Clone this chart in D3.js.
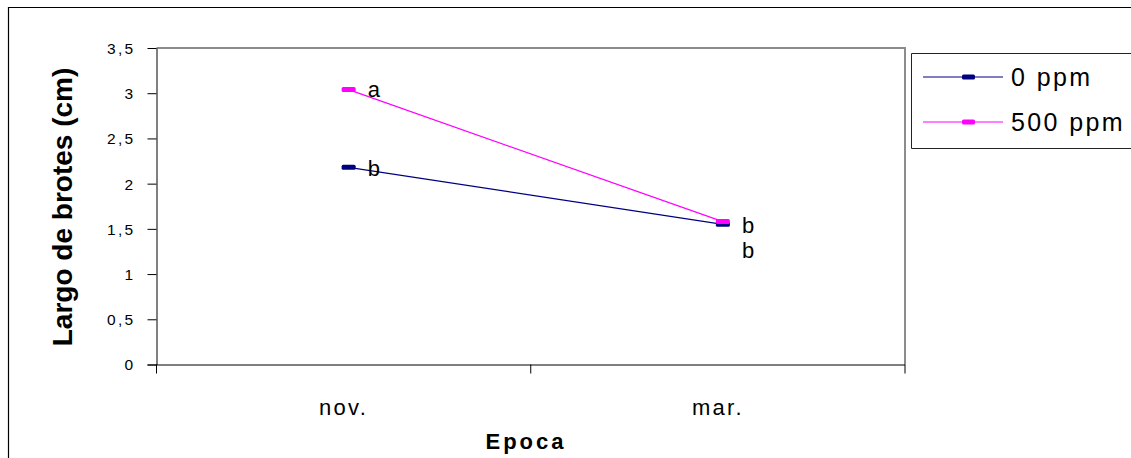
<!DOCTYPE html>
<html><head><meta charset="utf-8">
<script src="https://cdn.jsdelivr.net/npm/d3@7"></script>
<style>body{margin:0;background:#fff}svg{display:block}</style>
</head><body>
<script>
const categories = ["nov.", "mar."];
const seriesNames = ["0 ppm", "500 ppm"];
const values0 = [2.18, 1.55];
const values500 = [3.04, 1.58];
const colors = ["#000080", "#FF00FF"];
const yTicks = [0, 0.5, 1, 1.5, 2, 2.5, 3, 3.5];
const labels0 = ["b", "b"];
const labels500 = ["a", "b"];

const W = 1131, H = 458;
const svg = d3.select("body").append("svg").attr("width", W).attr("height", H);
const font = "Arial, 'Liberation Sans', sans-serif";

// outer frame
svg.append("path").attr("d", `M8.5,${H} V7.5 H${W}`).attr("fill","none").attr("stroke","#000").attr("stroke-width",1.2);

const L = 156.5, R = 905, T = 48, B = 364.5;
const x = d3.scaleBand().domain(categories).range([L, R]);
const y = d3.scaleLinear().domain([0, 3.5]).range([B, T]);

// plot border (gray top/right)
svg.append("path").attr("d", `M${L},${T} H${R} V${B}`).attr("fill","none").attr("stroke","#8c8c8c").attr("stroke-width",2);

// y axis
const yAxis = d3.axisLeft(y).tickValues(yTicks).tickSize(9).tickSizeOuter(0)
  .tickFormat(d => String(d).replace(".", ","));
const gy = svg.append("g").attr("transform", `translate(${L},0)`).call(yAxis);
gy.attr("font-size", null).attr("font-family", null);
gy.select(".domain").attr("stroke","#000");
gy.selectAll(".tick line").attr("stroke","#000");
gy.selectAll("text").style("font-family", font).style("font-size", "15.5px").attr("fill","#000")
  .attr("letter-spacing", 2.3).attr("x", -21).attr("dy","0.35em");

// x axis
const xAxis = d3.axisBottom(x).tickSize(0).tickSizeOuter(0);
const gx = svg.append("g").attr("transform", `translate(0,${B})`).call(xAxis);
gx.attr("font-size", null).attr("font-family", null);
gx.select(".domain").attr("stroke","#000").attr("d", `M${L - 9},0.5H${R}`);
gx.selectAll("text").style("font-family", font).style("font-size", "22px").attr("fill","#000")
  .attr("letter-spacing", 2.3).attr("y", 43).attr("dy","0.35em");
// boundary ticks
const bounds = [L, ...categories.map(c => x(c) + x.bandwidth())];
gx.selectAll(".btick").data(bounds).enter().append("line").attr("class","btick")
  .attr("x1", d => d).attr("x2", d => d).attr("y1", 0).attr("y2", 9).attr("stroke","#000");

// titles
svg.append("text").attr("transform", `translate(72,207) rotate(-90)`).attr("text-anchor","middle")
  .style("font-family", font).attr("font-weight","bold").style("font-size", "28px").text("Largo de brotes (cm)");
svg.append("text").attr("x", 526).attr("y", 449).attr("text-anchor","middle")
  .style("font-family", font).attr("font-weight","bold").style("font-size", "22px").attr("letter-spacing", 3).text("Epoca");

// series
const off = 5;
const px = c => x(c) + x.bandwidth() / 2 + off;
const series = [
  {vals: values0, color: colors[0], labels: labels0},
  {vals: values500, color: colors[1], labels: labels500}
];
const line = d3.line().x(d => px(d.c)).y(d => y(d.v));
series.forEach(s => {
  const pts = categories.map((c, i) => ({c, v: s.vals[i]}));
  svg.append("path").datum(pts).attr("d", line).attr("fill","none").attr("stroke", s.color).attr("stroke-width",1.2);
  svg.selectAll(null).data(pts).enter().append("rect")
    .attr("x", d => px(d.c) - 7).attr("y", d => y(d.v) - 2.5).attr("width", 14).attr("height", 5).attr("rx",1.5)
    .attr("fill", s.color);
});
// significance labels
const lab = (xx, yy, t) => svg.append("text").attr("x", xx).attr("y", yy).attr("dy","0.35em")
  .style("font-family", font).style("font-size", "22px").text(t);
lab(px(categories[0]) + 19, y(values500[0]), labels500[0]);
lab(px(categories[0]) + 19, y(values0[0]) + 1, labels0[0]);
lab(px(categories[1]) + 19, y(values500[1]) + 4, labels500[1]);
lab(px(categories[1]) + 19, y(values0[1]) + 26, labels0[1]);

// legend
const lg = svg.append("g");
lg.append("path").attr("d", `M${W},53.5 H911.5 V148.5 H${W}`).attr("fill","none").attr("stroke","#222").attr("stroke-width",1);
seriesNames.forEach((n, i) => {
  const ly = 77 + i * 45;
  lg.append("line").attr("x1", 923).attr("x2", 1003).attr("y1", ly).attr("y2", ly).attr("stroke", colors[i]).attr("stroke-width",1.2);
  lg.append("rect").attr("x", 962).attr("y", ly - 2.5).attr("width", 13).attr("height", 5).attr("rx",1.5).attr("fill", colors[i]);
  lg.append("text").attr("x", 1011).attr("y", ly).attr("dy","0.35em").style("font-family", font)
    .style("font-size", "25px").attr("letter-spacing", 2.4).text(n);
});
</script>
</body></html>
